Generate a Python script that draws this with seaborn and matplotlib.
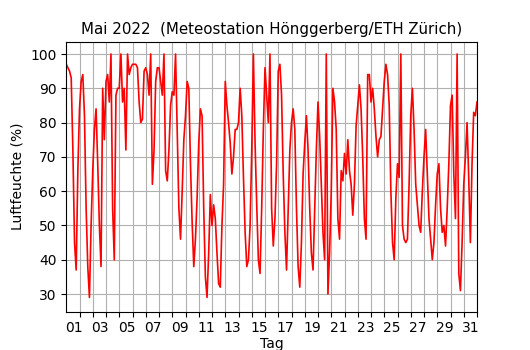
import numpy as np
import pandas as pd
import matplotlib
matplotlib.use("Agg")
import matplotlib.pyplot as plt
import matplotlib.transforms as mtransforms
import seaborn as sns

TITLE = "Mai 2022  (Meteostation Hönggerberg/ETH Zürich)"
X_LABEL = "Tag"
Y_LABEL = "Luftfeuchte (%)"

# relative humidity (%), read every 3 hours from 1 May 00:00 to 1 June 00:00
week1 = [
    97, 96, 95, 93, 72, 45, 37, 66,      # 1
    84, 92, 94, 82, 55, 38, 29, 50,      # 2
    66, 78, 84, 68, 50, 38, 90, 75,      # 3
    92, 94, 86, 100, 55, 40, 88, 90,     # 4
    90, 100, 86, 90, 72, 100, 94, 96,    # 5
    97, 97, 97, 96, 86, 80, 81, 95,      # 6
    96, 94, 88, 100, 62, 72, 92, 96,     # 7
]
week2 = [
    96, 92, 88, 100, 66, 63, 72, 85,     # 8
    89, 88, 100, 78, 55, 46, 60, 75,     # 9
    82, 92, 90, 68, 51, 38, 46, 58,      # 10
    74, 84, 82, 55, 35, 29, 42, 59,      # 11
    50, 56, 52, 42, 33, 32, 50, 62,      # 12
    92, 85, 80, 74, 65, 70, 78, 78,      # 13
    80, 90, 82, 64, 48, 38, 40, 50,      # 14
]
week3 = [
    72, 100, 74, 56, 40, 36, 55, 78,     # 15
    96, 88, 80, 100, 55, 44, 52, 68,     # 16
    95, 97, 88, 65, 48, 37, 55, 72,      # 17
    80, 84, 78, 55, 38, 32, 45, 65,      # 18
    74, 82, 72, 55, 42, 37, 55, 72,      # 19
    86, 76, 62, 48, 40, 100, 30, 42,     # 20
    60, 90, 86, 78, 52, 46, 66, 63,      # 21
]
week4 = [
    71, 65, 75, 66, 62, 53, 62, 79,      # 22
    85, 91, 84, 70, 52, 46, 94, 94,      # 23
    86, 90, 84, 76, 70, 75, 76, 84,      # 24
    92, 97, 94, 85, 60, 45, 40, 58,      # 25
    68, 64, 100, 50, 46, 45, 46, 62,     # 26
    82, 90, 78, 62, 56, 50, 48, 60,      # 27
    70, 78, 65, 52, 46, 40, 45, 56,      # 28
]
week5 = [
    65, 68, 55, 48, 50, 44, 55, 68,      # 29
    85, 88, 65, 52, 100, 36, 31, 45,     # 30
    62, 70, 80, 64, 45, 68, 83, 82,      # 31
    86,                                  # 1 June 00:00
]
humidity = week1 + week2 + week3 + week4 + week5
hours = np.arange(len(humidity)) * 3          # sampling grid, hours since 1 May 00:00

day_ticks = list(range(1, 32))
day_labels = [f"{d:02d}" if d % 2 == 1 else "" for d in day_ticks]
y_ticks = [30, 40, 50, 60, 70, 80, 90, 100]

df = pd.DataFrame({"tag": hours / 24.0, "rh": humidity})

fig, ax = plt.subplots(figsize=(5.3, 3.5), dpi=100)
sns.lineplot(data=df, x="tag", y="rh", color="red", linewidth=1.2, ax=ax)

ax.set_xlim(0, 31)
ax.set_ylim(24.9, 103.5)
ax.set_xticks(day_ticks)
ax.set_xticklabels(day_labels, ha="right")
shift = mtransforms.ScaledTranslation(3 / 100, 0, fig.dpi_scale_trans)
for lbl in ax.get_xticklabels():
    lbl.set_transform(lbl.get_transform() + shift)
ax.set_yticks(y_ticks)
ax.grid(True, color="#b0b0b0", linewidth=0.8)
ax.set_axisbelow(True)
ax.set_title(TITLE, fontsize=10.8)
ax.set_xlabel(X_LABEL, labelpad=1)
ax.set_ylabel(Y_LABEL)

fig.savefig("out.png", dpi=100)
